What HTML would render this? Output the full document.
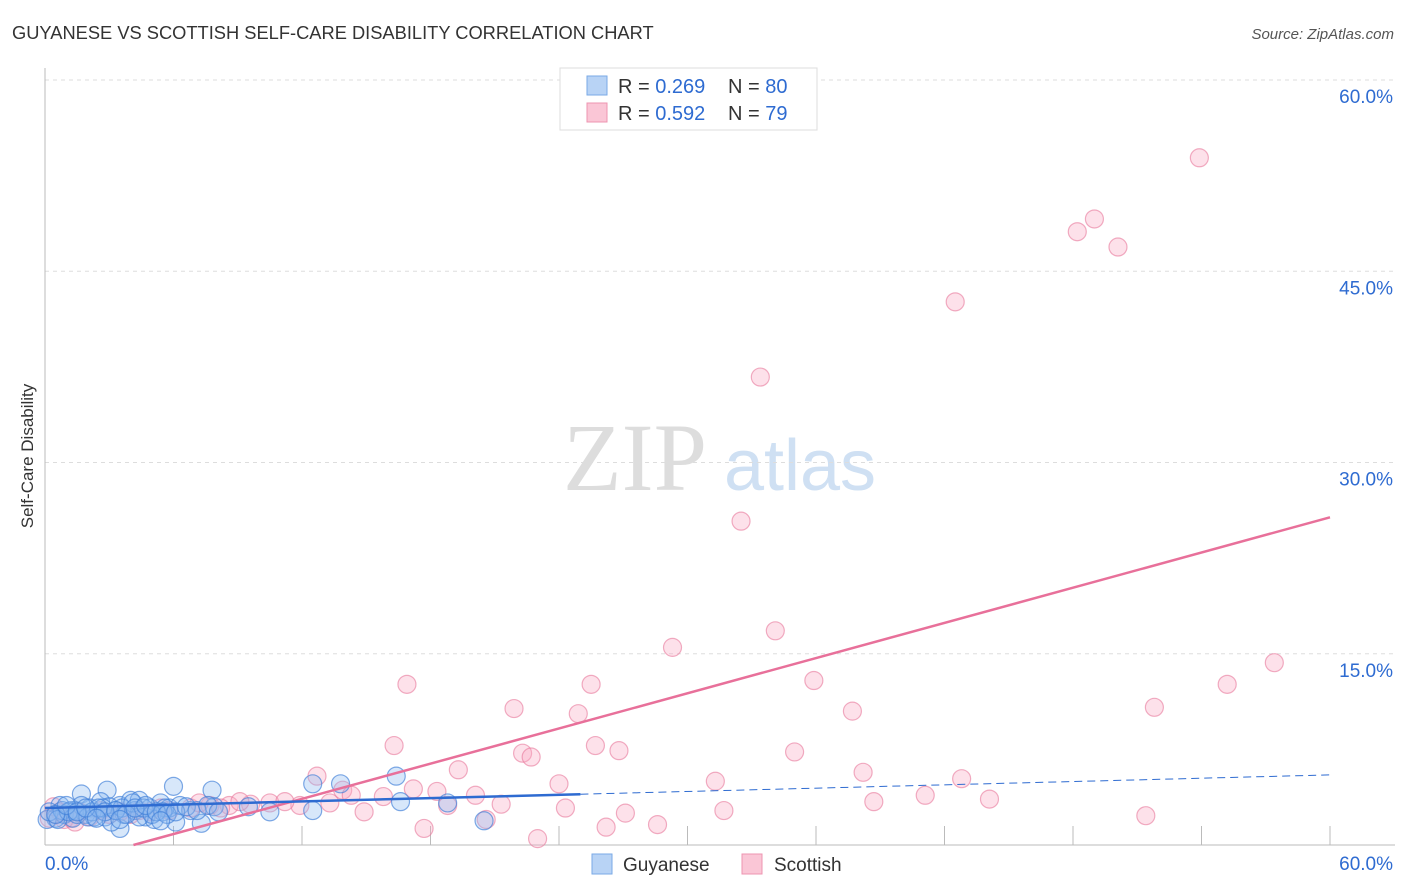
<!DOCTYPE html>
<html><head><meta charset="utf-8"><style>
body{margin:0;background:#fff;font-family:"Liberation Sans",sans-serif}
svg{display:block}
</style></head><body>
<svg id="c" width="1406" height="892" xmlns="http://www.w3.org/2000/svg">
<text x="12" y="39" font-size="18.3" fill="#333">GUYANESE VS SCOTTISH SELF-CARE DISABILITY CORRELATION CHART</text>
<text x="1394" y="39" font-size="15" font-style="italic" fill="#555" text-anchor="end">Source: ZipAtlas.com</text>
<text x="33" y="456" font-size="17" fill="#333" text-anchor="middle" transform="rotate(-90 33 456)">Self-Care Disability</text>
<g><text x="635" y="490" font-size="96" font-family="Liberation Serif,serif" fill="#ddd" text-anchor="middle">ZIP</text><text x="800" y="490" font-size="72" fill="#cfe0f3" text-anchor="middle">atlas</text></g>
<g id="grid"></g><g id="axes"></g><g id="pts"></g><g id="lines"></g>
<g>
<rect x="560" y="68" width="257" height="62" fill="#fff" stroke="#ddd"/>
<rect x="587" y="76" width="20" height="19" fill="#b8d3f5" stroke="#7aa9e6"/>
<rect x="587" y="103" width="20" height="19" fill="#fac6d6" stroke="#ee94b0"/>
<text x="618" y="93" font-size="20" fill="#333">R = <tspan fill="#2e6bd1">0.269</tspan></text>
<text x="728" y="93" font-size="20" fill="#333">N = <tspan fill="#2e6bd1">80</tspan></text>
<text x="618" y="120" font-size="20" fill="#333">R = <tspan fill="#2e6bd1">0.592</tspan></text>
<text x="728" y="120" font-size="20" fill="#333">N = <tspan fill="#2e6bd1">79</tspan></text>
</g>
<g>
<rect x="592" y="854" width="20" height="20" fill="#b8d3f5" stroke="#7aa9e6"/>
<text x="623" y="871" font-size="19" fill="#333">Guyanese</text>
<rect x="742" y="854" width="20" height="20" fill="#fac6d6" stroke="#ee94b0"/>
<text x="774" y="871" font-size="19" fill="#333">Scottish</text>
</g>
</svg>
<script>
const yTicks=[15,30,45,60];
const yTickLabels=["15.0%","30.0%","45.0%","60.0%"];
const xTicks=[0,6,12,18,24,30,36,42,48,54,60];
const scottishX=[53.9,49.0,48.2,50.1,42.5,33.4,32.5,34.1,29.3,57.4,35.9,16.9,25.5,55.2,21.9,37.7,24.9,51.8,16.3,25.7,26.8,35.0,22.3,22.7,19.3,38.2,12.7,31.3,42.8,24.0,17.2,13.9,18.3,20.1,41.1,44.1,15.8,14.3,38.7,21.3,18.8,14.9,24.3,31.7,27.1,20.6,51.4,28.6,26.2,17.7,23.0,11.9,10.5,9.6,8.6,7.7,6.8,5.8,4.9,4.0,3.0,2.1,1.2,0.5,0.7,1.6,2.6,3.5,4.4,5.4,7.2,9.1,11.2,13.3,8.2,0.9,1.4,0.2,0.4];
const scottishY=[53.9,49.1,48.1,46.9,42.6,36.7,25.4,16.8,15.5,14.3,12.9,12.6,12.6,12.6,10.7,10.5,10.3,10.8,7.8,7.8,7.4,7.3,7.2,6.9,5.9,5.7,5.4,5.0,5.2,4.8,4.4,4.3,4.2,3.9,3.9,3.6,3.8,3.9,3.4,3.2,3.1,2.6,2.9,2.7,2.5,2.0,2.3,1.6,1.4,1.3,0.5,3.1,3.3,3.2,3.1,3.1,2.9,2.7,2.6,2.4,2.4,2.2,2.1,2.4,2.6,2.6,2.7,2.6,2.7,2.9,3.3,3.4,3.4,3.3,2.9,2.0,1.8,2.1,3.0];
const guyX=[13.8,16.4,12.5,7.8,6.0,2.9,16.6,18.8,20.5,12.5,3.5,6.1,1.7,0.7,1.2,2.1,2.6,3.5,4.0,4.4,4.9,5.4,5.8,6.3,6.8,7.9,0.5,0.1,0.9,1.4,1.9,2.3,2.8,3.3,3.7,4.2,4.7,5.1,5.6,7.3,3.0,4.4,0.2,0.8,1.3,1.7,2.2,2.7,3.1,3.6,4.1,4.6,5.0,5.5,0.6,1.1,1.5,2.0,2.5,2.8,3.3,3.8,4.2,4.7,5.2,5.7,6.1,6.6,7.1,7.6,8.1,0.5,1.0,1.5,1.9,2.4,5.4,3.5,9.5,10.5];
const guyY=[4.8,5.4,4.8,4.3,4.6,4.3,3.4,3.3,1.9,2.7,1.3,1.8,4.0,3.1,2.7,2.9,3.4,3.1,3.5,3.5,2.9,3.3,2.9,3.1,2.7,3.0,2.1,2.0,2.4,2.7,2.4,2.2,2.2,2.7,2.4,2.7,2.2,2.0,2.9,1.7,3.0,2.2,2.6,2.7,2.1,3.1,2.6,2.9,1.8,2.9,3.3,2.9,2.4,2.6,2.0,2.6,2.4,2.2,2.9,2.6,2.7,2.4,2.9,3.1,2.6,2.4,2.6,3.0,2.7,3.1,2.6,2.4,3.1,2.6,2.9,2.1,1.9,2.0,3.0,2.6];
const scotTrend=[-1.9,0.46];
const guyTrend=[2.9,0.0433];
const guySolidEnd=25;
const X0=45,X1=1330,Y0=845,Y60=80;
const sx=v=>X0+v/60*(X1-X0), sy=v=>Y0-v/60*(Y0-Y60);
const NS="http://www.w3.org/2000/svg";
function mk(p,tag,a){const e=document.createElementNS(NS,tag);for(const k in a)e.setAttribute(k,a[k]);p.appendChild(e);return e;}
const grid=document.getElementById('grid'),axes=document.getElementById('axes'),pts=document.getElementById('pts'),lines=document.getElementById('lines');
yTicks.forEach((t,i)=>{
 const g=mk(grid,'line',{x1:X0,x2:1395,y1:sy(t),y2:sy(t),stroke:'#ddd','stroke-dasharray':'4,4'});
 
 
 const l=mk(grid,'text',{x:1393,y:sy(t)+23,'font-size':19,fill:'#2e6bd1','text-anchor':'end'});l.textContent=yTickLabels[i];
 
 
});
const ya=mk(axes,'line',{x1:X0,x2:X0,y1:68,y2:Y0,stroke:'#bbb'});


const xa=mk(axes,'line',{x1:X0,x2:1395,y1:Y0,y2:Y0,stroke:'#bbb'});


xTicks.forEach(t=>{const k=mk(axes,'line',{x1:sx(t),x2:sx(t),y1:Y0,y2:Y0-19,stroke:'#bbb'});
 
 });
const xl=mk(axes,'text',{x:45,y:870,'font-size':19,fill:'#2e6bd1'});xl.textContent='0.0%';


const xr=mk(axes,'text',{x:1393,y:870,'font-size':19,fill:'#2e6bd1','text-anchor':'end'});xr.textContent='60.0%';


scottishX.forEach((x,i)=>{const c=mk(pts,'circle',{cx:sx(x),cy:sy(scottishY[i]),r:9,fill:'rgba(248,170,195,0.35)',stroke:'rgba(232,120,155,0.6)','stroke-width':1.2});
 
 });
guyX.forEach((x,i)=>{const c=mk(pts,'circle',{cx:sx(x),cy:sy(guyY[i]),r:9,fill:'rgba(140,185,240,0.35)',stroke:'rgba(60,125,215,0.65)','stroke-width':1.2});
 
 });
const xs=-scotTrend[0]/scotTrend[1];
const pl=mk(lines,'line',{x1:sx(xs),y1:sy(0),x2:sx(60),y2:sy(scotTrend[0]+scotTrend[1]*60),stroke:'#e8709a','stroke-width':2.5});


const bl=mk(lines,'line',{x1:sx(0),y1:sy(guyTrend[0]),x2:sx(guySolidEnd),y2:sy(guyTrend[0]+guyTrend[1]*guySolidEnd),stroke:'#2e6bd1','stroke-width':2.5});


const bd=mk(lines,'line',{x1:sx(guySolidEnd),y1:sy(guyTrend[0]+guyTrend[1]*guySolidEnd),x2:sx(60),y2:sy(guyTrend[0]+guyTrend[1]*60),stroke:'#2e6bd1','stroke-width':1,'stroke-dasharray':'8,5'});


</script>
</body></html>
